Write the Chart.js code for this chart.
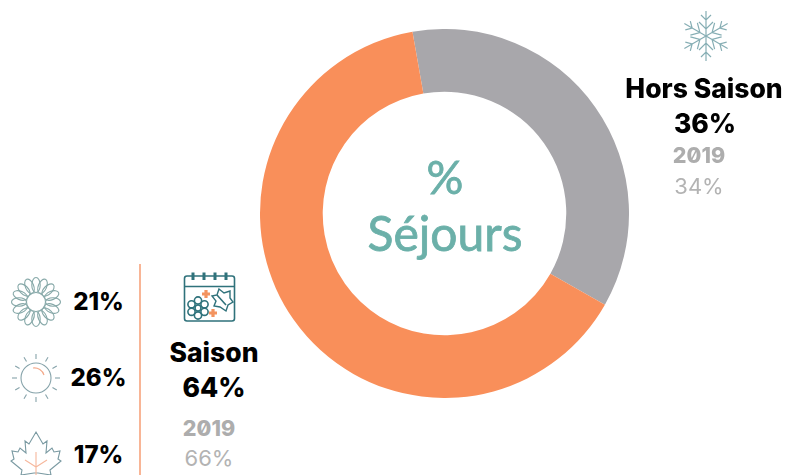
<!DOCTYPE html>
<html lang="fr">
<head>
<meta charset="utf-8">
<title>% Séjours</title>
<script src="https://cdn.jsdelivr.net/npm/chart.js@4"></script>
<style>
    html, body { margin: 0; padding: 0; background: #fff; }
    #page { position: relative; width: 785px; height: 475px; overflow: hidden; font-family: Inter, sans-serif; }
    #grafico { position: absolute; left: 260px; top: 29px; }
    .t { position: absolute; transform: translate(-50%, -50%); white-space: nowrap; line-height: 1; }
    .noir { font-weight: 800; color: #000; }
    .annee { font-weight: 800; color: #adadad; font-size: 21.5px; font-feature-settings: "zero"; }
    .ancien { font-weight: 400; color: #b3b3b3; font-size: 22px; }
    .centre { font-family: Lato, sans-serif; font-weight: 400; color: #6bb0a9; -webkit-text-stroke: 0.8px #6bb0a9; }
    #ligne { position: absolute; left: 139px; top: 264px; width: 2px; height: 211px; background: #f8b596; }
    svg { position: absolute; overflow: visible; fill: none; }
</style>
</head>
<body>
<div id="page">
    <canvas id="grafico" width="369" height="369"></canvas>
    <div id="ligne"></div>

    <!-- flocon -->
    <svg id="flocon" style="left:706px;top:36px" width="1" height="1" stroke="#86aeb4" stroke-width="1.2"></svg>

    <!-- fleur -->
    <svg id="fleur" style="left:36px;top:302px" width="1" height="1" stroke="#86a8a8" stroke-width="1.1"></svg>

    <!-- soleil -->
    <svg id="soleil" style="left:36px;top:378px" width="1" height="1" stroke="#86a3aa" stroke-width="1.1">
        <circle r="15"></circle>
        <path d="M-3 -10 A10 10 0 0 1 8 -3" stroke="#f3a98a"></path>
    </svg>

    <!-- erable -->
    <svg style="left:36px;top:457px" width="1" height="1" stroke="#7a9aa2" stroke-width="1.1">
        <path d="M0 -25 L7 -13 L11 -16 L10 -4 L16 -9 L18 -5 L24 -6 L22 2 L25 4 L14 13 L15 18 L2 16 L0 16 L-2 16 L-15 18 L-14 13 L-25 4 L-22 2 L-24 -6 L-18 -5 L-16 -9 L-10 -4 L-11 -16 L-7 -13 Z"></path>
        <path d="M0 -5 V20 M0 10 L-11 3 M0 10 L11 3" stroke="#f6b79c"></path>
    </svg>

    <!-- calendrier -->
    <svg style="left:184px;top:272px" width="52" height="50" stroke="#2f727b" stroke-width="1.6">
        <rect x="0.5" y="4" width="50" height="45" rx="2.5"></rect>
        <path d="M0.5 14.5 H50.5"></path>
        <path d="M9 0.5 V8 M20 0.5 V8 M31 0.5 V8 M42 0.5 V8" stroke-width="3"></path>
        <circle cx="14" cy="36" r="3"></circle>
        <circle cx="14" cy="28.5" r="3.6"></circle>
        <circle cx="14" cy="43.5" r="3.6"></circle>
        <circle cx="7.5" cy="32.3" r="3.6"></circle>
        <circle cx="20.5" cy="32.3" r="3.6"></circle>
        <circle cx="7.5" cy="39.8" r="3.6"></circle>
        <circle cx="20.5" cy="39.8" r="3.6"></circle>
        <path d="M35 17 L40 21 L46 19 L46 26 L49 30 L44 33 L42 39 L36 35 L30 34 L32 29 L28 24 L33 23 Z" stroke-width="1.4"></path>
        <path d="M33 23 L42 33"></path>
        <path d="M18 22 H26 M22 18 V26 M25 41 H33 M29 37 V45" stroke="#f3935f" stroke-width="3.2"></path>
    </svg>

    <div class="t centre" id="titre1" style="left:445px;top:177px;font-size:46px">%</div>
    <div class="t centre" id="titre2" style="left:445px;top:233px;font-size:48px">Séjours</div>

    <div class="t noir" id="nomHors" style="left:704px;top:88px;font-size:26.5px"></div>
    <div class="t noir" id="valHors" style="left:705px;top:123px;font-size:26.5px"></div>
    <div class="t annee" id="anHors" style="left:699px;top:156px"></div>
    <div class="t ancien" id="ancHors" style="left:699px;top:186px"></div>

    <div class="t noir" id="nomSaison" style="left:214px;top:352px;font-size:26.5px"></div>
    <div class="t noir" id="valSaison" style="left:214px;top:387px;font-size:26.5px"></div>
    <div class="t annee" id="anSaison" style="left:209px;top:429px"></div>
    <div class="t ancien" id="ancSaison" style="left:209px;top:458px"></div>

    <div class="t noir" id="pct0" style="left:98.5px;top:302px;font-size:24px"></div>
    <div class="t noir" id="pct1" style="left:98.5px;top:378px;font-size:24px"></div>
    <div class="t noir" id="pct2" style="left:98.5px;top:455px;font-size:24px"></div>
</div>

<script>
var categories = ['Hors Saison', 'Saison'];
var valeurs = [36, 64];
var valeurs2019 = [34, 66];
var annee = '2019';
var valeursSaison = [21, 26, 17];
var couleurs = ['#a8a7ab', '#f98f5a'];

function remplir(id, texte) {
    document.getElementById(id).textContent = texte;
}

function dessinerIcones() {
    var svgNS = 'http://www.w3.org/2000/svg';
    var flocon = document.getElementById('flocon');
    for (var i = 0; i < 6; i++) {
        var p = document.createElementNS(svgNS, 'path');
        p.setAttribute('d', 'M0 0 V-25 M-5 -21 L0 -16 L5 -21 M-7 -14 L0 -7 L7 -14');
        p.setAttribute('transform', 'rotate(' + (i * 60) + ')');
        flocon.appendChild(p);
    }

    var fleur = document.getElementById('fleur');
    for (var j = 0; j < 16; j++) {
        var e = document.createElementNS(svgNS, 'ellipse');
        e.setAttribute('cy', '-17');
        e.setAttribute('rx', '4.2');
        e.setAttribute('ry', '7.5');
        e.setAttribute('transform', 'rotate(' + (j * 22.5) + ')');
        fleur.appendChild(e);
    }
    var c = document.createElementNS(svgNS, 'circle');
    c.setAttribute('r', '9.5');
    c.setAttribute('fill', '#fff');
    fleur.appendChild(c);

    var soleil = document.getElementById('soleil');
    for (var k = 0; k < 12; k++) {
        var r = document.createElementNS(svgNS, 'path');
        r.setAttribute('d', 'M0 -19 V-24');
        r.setAttribute('transform', 'rotate(' + (k * 30) + ')');
        soleil.appendChild(r);
    }
}

remplir('nomHors', categories[0]);
remplir('valHors', valeurs[0] + '%');
remplir('anHors', annee);
remplir('ancHors', valeurs2019[0] + '%');
remplir('nomSaison', categories[1]);
remplir('valSaison', valeurs[1] + '%');
remplir('anSaison', annee);
remplir('ancSaison', valeurs2019[1] + '%');
valeursSaison.forEach(function (v, i) {
    remplir('pct' + i, v + '%');
});
dessinerIcones();

var ctx = document.getElementById('grafico').getContext('2d');
var chart = new Chart(ctx, {
    type: 'doughnut',
    data: {
        labels: categories,
        datasets: [{
            data: valeurs,
            backgroundColor: couleurs,
            borderWidth: 0
        }]
    },
    options: {
        responsive: false,
        animation: false,
        cutout: '66%',
        rotation: -10,
        plugins: {
            legend: { display: false },
            tooltip: { enabled: false }
        }
    }
});
</script>
</body>
</html>
